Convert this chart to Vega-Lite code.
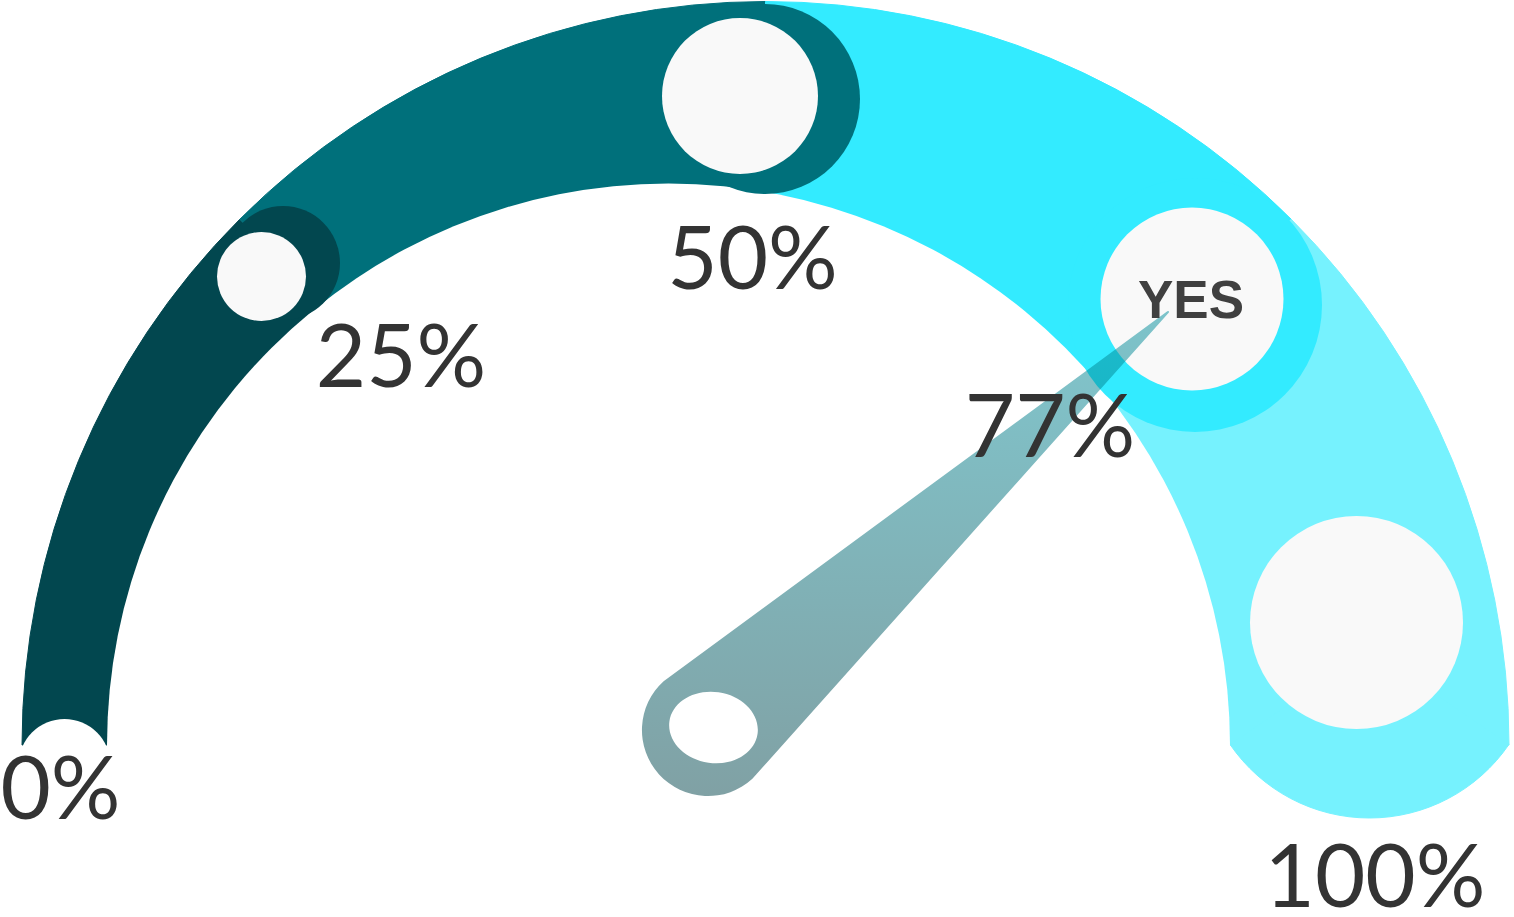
{
  "$schema": "https://vega.github.io/schema/vega-lite/v6.json",
  "width": 1514,
  "height": 917,
  "autosize": {"type": "none"},
  "padding": 0,
  "background": "#ffffff",
  "config": {"view": {"stroke": null}},
  "datasets": {
    "bands": [
      {"band": "0–25%", "x": 765.5, "y": 745, "r": 743.5, "from": -90, "to": -45},
      {"band": "25–50%", "x": 765.5, "y": 745, "r": 743.5, "from": -45, "to": 0},
      {"band": "50–75%", "x": 765.5, "y": 745, "r": 743.5, "from": 0, "to": 45},
      {"band": "75–100%", "x": 765.5, "y": 745, "r": 743.5, "from": 45, "to": 90},
      {"band": "75–100%", "x": 1369.5, "y": 649, "r": 169, "from": 124.4, "to": 235.6}
    ],
    "holes": [
      {"x": 668.5, "y": 745, "r": 561.5, "from": -180, "to": 180},
      {"x": 64.5, "y": 765, "r": 46, "from": -180, "to": 180}
    ],
    "rings": [
      {"band": "0–25%", "x": 283, "y": 263, "r": 57, "from": -180, "to": 180},
      {"band": "25–50%", "x": 765, "y": 99, "r": 95, "from": -180, "to": 180},
      {"band": "50–75%", "x": 1195, "y": 305, "r": 127, "from": -180, "to": 180}
    ],
    "discs": [
      {"x": 261.5, "y": 276.5, "r": 44.5, "from": -180, "to": 180},
      {"x": 740, "y": 96, "r": 78, "from": -180, "to": 180},
      {"x": 1192, "y": 299, "r": 91.5, "from": -180, "to": 180},
      {"x": 1356.5, "y": 622.5, "r": 106.5, "from": -180, "to": 180}
    ],
    "needle": [
      {"x": 708, "y": 730, "w": 132, "o": 0},
      {"x": 1168, "y": 312, "w": 2, "o": 1}
    ],
    "hub": [
      {"x": 713.5, "y": 727.5, "rx": 44.5}
    ],
    "labels": [
      {"label": "0%", "x": 60.5, "y": 819},
      {"label": "25%", "x": 401, "y": 387},
      {"label": "50%", "x": 752.5, "y": 289},
      {"label": "77%", "x": 1050, "y": 457},
      {"label": "100%", "x": 1375, "y": 907}
    ],
    "answer": [
      {"label": "YES", "x": 1191, "y": 318}
    ]
  },
  "layer": [
    {
      "data": {"name": "bands"},
      "mark": {"type": "arc", "strokeWidth": 1},
      "encoding": {
        "x": {"field": "x", "type": "quantitative", "scale": {"domain": [0, 1514], "nice": false, "zero": false}, "axis": null},
        "y": {"field": "y", "type": "quantitative", "scale": {"domain": [0, 917], "nice": false, "zero": false, "reverse": true}, "axis": null},
        "theta": {"field": "from", "type": "quantitative", "stack": null, "scale": {"type": "linear", "domain": [-180, 180], "range": [-3.141592653589793, 3.141592653589793]}},
        "theta2": {"field": "to"},
        "radius": {"field": "r", "type": "quantitative", "scale": {"type": "linear", "domain": [0, 1000], "range": [0, 1000]}},
        "color": {"field": "band", "type": "nominal", "legend": null, "scale": {"domain": ["0–25%", "25–50%", "50–75%", "75–100%"], "range": ["#02474f", "#00707b", "#33ebff", "#76f2fe"]}},
        "stroke": {"field": "band", "type": "nominal", "legend": null, "scale": {"domain": ["0–25%", "25–50%", "50–75%", "75–100%"], "range": ["#02474f", "#00707b", "#33ebff", "#76f2fe"]}}
      }
    },
    {
      "data": {"name": "holes"},
      "mark": {"type": "arc", "fill": "#ffffff"},
      "encoding": {
        "x": {"field": "x", "type": "quantitative"},
        "y": {"field": "y", "type": "quantitative"},
        "theta": {"field": "from", "type": "quantitative", "stack": null},
        "theta2": {"field": "to"},
        "radius": {"field": "r", "type": "quantitative"}
      }
    },
    {
      "data": {"name": "rings"},
      "mark": {"type": "arc"},
      "encoding": {
        "x": {"field": "x", "type": "quantitative"},
        "y": {"field": "y", "type": "quantitative"},
        "theta": {"field": "from", "type": "quantitative", "stack": null},
        "theta2": {"field": "to"},
        "radius": {"field": "r", "type": "quantitative"},
        "color": {"field": "band", "type": "nominal", "legend": null}
      }
    },
    {
      "data": {"name": "discs"},
      "mark": {"type": "arc", "fill": "#f9f9f9"},
      "encoding": {
        "x": {"field": "x", "type": "quantitative"},
        "y": {"field": "y", "type": "quantitative"},
        "theta": {"field": "from", "type": "quantitative", "stack": null},
        "theta2": {"field": "to"},
        "radius": {"field": "r", "type": "quantitative"}
      }
    },
    {
      "data": {"name": "needle"},
      "mark": {
        "type": "trail",
        "opacity": 0.5,
        "fill": {"gradient": "linear", "x1": 0, "y1": 0, "x2": 0, "y2": 1, "stops": [{"offset": 0, "color": "#008e9c"}, {"offset": 1, "color": "#00434a"}]}
      },
      "encoding": {
        "x": {"field": "x", "type": "quantitative"},
        "y": {"field": "y", "type": "quantitative"},
        "order": {"field": "o", "type": "quantitative"},
        "size": {"field": "w", "type": "quantitative", "legend": null, "scale": {"type": "linear", "domain": [0, 200], "range": [0, 200]}}
      }
    },
    {
      "data": {"name": "hub"},
      "mark": {"type": "point", "shape": "M-1,0A1,0.8,0,1,0,1,0A1,0.8,0,1,0,-1,0Z", "filled": true, "fill": "#ffffff", "opacity": 1, "strokeWidth": 0, "angle": 8},
      "encoding": {
        "x": {"field": "x", "type": "quantitative"},
        "y": {"field": "y", "type": "quantitative"},
        "size": {"field": "rx", "type": "quantitative", "legend": null, "scale": {"type": "pow", "exponent": 2, "domain": [0, 100], "range": [0, 40000]}}
      }
    },
    {
      "data": {"name": "labels"},
      "mark": {"type": "text", "font": "Lato", "fontSize": 87, "fill": "#333333", "align": "center", "baseline": "alphabetic"},
      "encoding": {
        "x": {"field": "x", "type": "quantitative"},
        "y": {"field": "y", "type": "quantitative"},
        "text": {"field": "label", "type": "nominal"}
      }
    },
    {
      "data": {"name": "answer"},
      "mark": {"type": "text", "font": "Liberation Sans", "fontWeight": "bold", "fontSize": 53, "fill": "#404040", "align": "center", "baseline": "alphabetic"},
      "encoding": {
        "x": {"field": "x", "type": "quantitative"},
        "y": {"field": "y", "type": "quantitative"},
        "text": {"field": "label", "type": "nominal"}
      }
    }
  ],
  "resolve": {"scale": {"size": "independent"}}
}
